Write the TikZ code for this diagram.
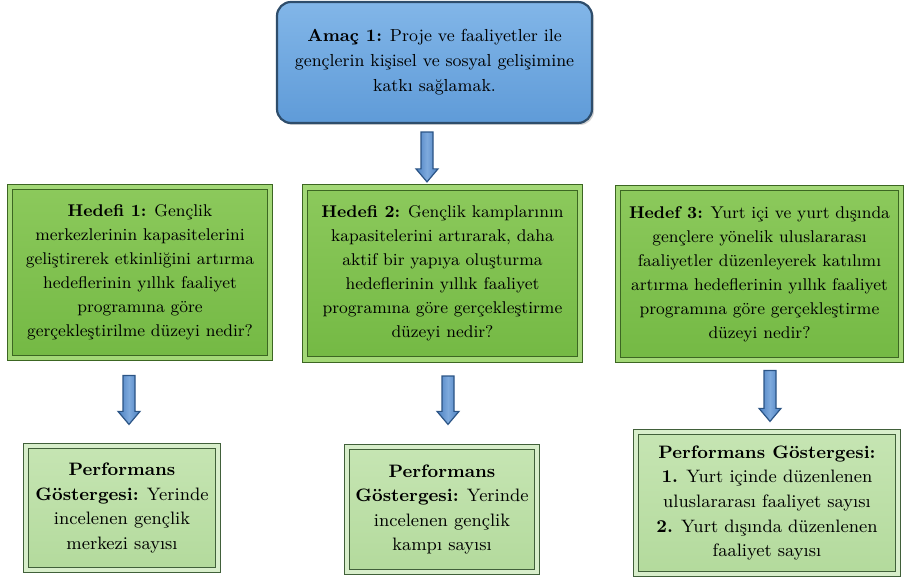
\documentclass[tikz,border=0pt]{standalone}
\usepackage{tikz}
\usetikzlibrary{calc, shadows}
\definecolor{AimBlue}{HTML}{5F9BD8}
\definecolor{AimBlueLight}{HTML}{82B6E8}
\definecolor{AimEdge}{HTML}{2E4D6B}
\definecolor{GoalGreen}{HTML}{74B944}
\definecolor{GoalLight}{HTML}{8CC95C}
\definecolor{GoalRim}{HTML}{A3D877}
\definecolor{GoalEdge}{HTML}{3C6622}
\definecolor{IndGreen}{HTML}{B3DA9C}
\definecolor{IndLight}{HTML}{C6E5B3}
\definecolor{IndRim}{HTML}{D8EECB}
\definecolor{IndEdge}{HTML}{41603A}
\definecolor{ArrowBlue}{HTML}{4A7FC0}
\definecolor{ArrowLight}{HTML}{7EAADD}
\definecolor{ArrowEdge}{HTML}{2B5485}

\begin{document}
\begin{tikzpicture}[x=0.5pt, y=-0.5pt,
    aimbox/.style={draw=AimEdge, line width=1.1pt, rounded corners=7pt,
      top color=AimBlueLight, bottom color=AimBlue, align=center,
      font=\fontsize{8.7}{12.5}\selectfont,
      drop shadow={shadow xshift=1pt, shadow yshift=-1pt, opacity=0.35}},
    goalbox/.style={draw=GoalEdge, double=GoalRim, double distance=2.2pt,
      line width=0.6pt, top color=GoalLight, bottom color=GoalGreen,
      align=center, font=\fontsize{8.5}{12}\selectfont,
      drop shadow={shadow xshift=1pt, shadow yshift=-1.2pt, opacity=0.5}},
    indbox/.style={draw=IndEdge, double=IndRim, double distance=2.2pt,
      line width=0.6pt, top color=IndLight, bottom color=IndGreen,
      align=center, font=\fontsize{9}{12.3}\selectfont,
      drop shadow={shadow xshift=1.5pt, shadow yshift=-1.5pt, opacity=0.7}},
    blockarrow/.style={draw=ArrowEdge, line width=0.6pt,
      left color=ArrowBlue, right color=ArrowBlue, middle color=ArrowLight,
      to path={let \p1=(\tikztostart), \p2=(\tikztotarget) in
        (\x1-3pt,\y1) -- (\x1-3pt,\y2+6.5pt) -- (\x1-5.5pt,\y2+6.5pt)
        -- (\x1,\y2) -- (\x1+5.5pt,\y2+6.5pt) -- (\x1+3pt,\y2+6.5pt)
        -- (\x1+3pt,\y1) -- cycle}}]
    \useasboundingbox (0,0) rectangle (904,581);

    % Aim
    \node[aimbox, minimum width=157.5pt, minimum height=60.5pt] (amac)
      at (434.5,62.5) {\textbf{Amaç 1:} Proje ve faaliyetler ile\\
      gençlerin kişisel ve sosyal gelişimine\\ katkı sağlamak.};

    % Goals
    \node[goalbox, minimum width=130pt, minimum height=85.5pt] (hedef1)
      at (140,272.5) {\textbf{Hedefi 1:} Gençlik\\
      merkezlerinin kapasitelerini\\ geliştirerek etkinliğini artırma\\
      hedeflerinin yıllık faaliyet\\ programına göre\\
      gerçekleştirilme düzeyi nedir?};
    \node[goalbox, minimum width=137.5pt, minimum height=86pt] (hedef2)
      at (442.5,273.5) {\textbf{Hedefi 2:} Gençlik kamplarının\\
      kapasitelerini artırarak, daha\\ aktif bir yapıya oluşturma\\
      hedeflerinin yıllık faaliyet\\ programına göre gerçekleştirme\\
      düzeyi nedir?};
    \node[goalbox, minimum width=141.5pt, minimum height=86pt] (hedef3)
      at (759.5,274) {\textbf{Hedef 3:} Yurt içi ve yurt dışında\\
      gençlere yönelik uluslararası\\ faaliyetler düzenleyerek katılımı\\
      artırma hedeflerinin yıllık faaliyet\\
      programına göre gerçekleştirme\\ düzeyi nedir?};

    % Performance indicators
    \node[indbox, minimum width=96pt, minimum height=62pt] (gosterge1)
      at (122,508) {\textbf{Performans}\\ \textbf{Göstergesi:} Yerinde\\
      incelenen gençlik\\ merkezi sayısı};
    \node[indbox, minimum width=95pt, minimum height=62.5pt] (gosterge2)
      at (442,509.5) {\textbf{Performans}\\ \textbf{Göstergesi:} Yerinde\\
      incelenen gençlik\\ kampı sayısı};
    \node[indbox, minimum width=131pt, minimum height=71pt] (gosterge3)
      at (767,503) {\textbf{Performans Göstergesi:}\\
      \textbf{1.} Yurt içinde düzenlenen\\ uluslararası faaliyet sayısı\\
      \textbf{2.} Yurt dışında düzenlenen\\ faaliyet sayısı};

    % Arrows
    \draw[blockarrow] ([xshift=-3.75pt, yshift=-4pt]amac.south)
      to ([yshift=2.5pt]hedef2.north);
    \draw[blockarrow] ([xshift=-5.5pt, yshift=-8.5pt]hedef1.south)
      to ([yshift=10.5pt]gosterge1.north);
    \draw[blockarrow] ([xshift=2.75pt, yshift=-8pt]hedef2.south)
      to ([yshift=11pt]gosterge2.north);
    \draw[blockarrow] ([xshift=5.25pt, yshift=-5pt]hedef3.south)
      to ([yshift=5pt]gosterge3.north);
  \end{tikzpicture}
\end{document}
